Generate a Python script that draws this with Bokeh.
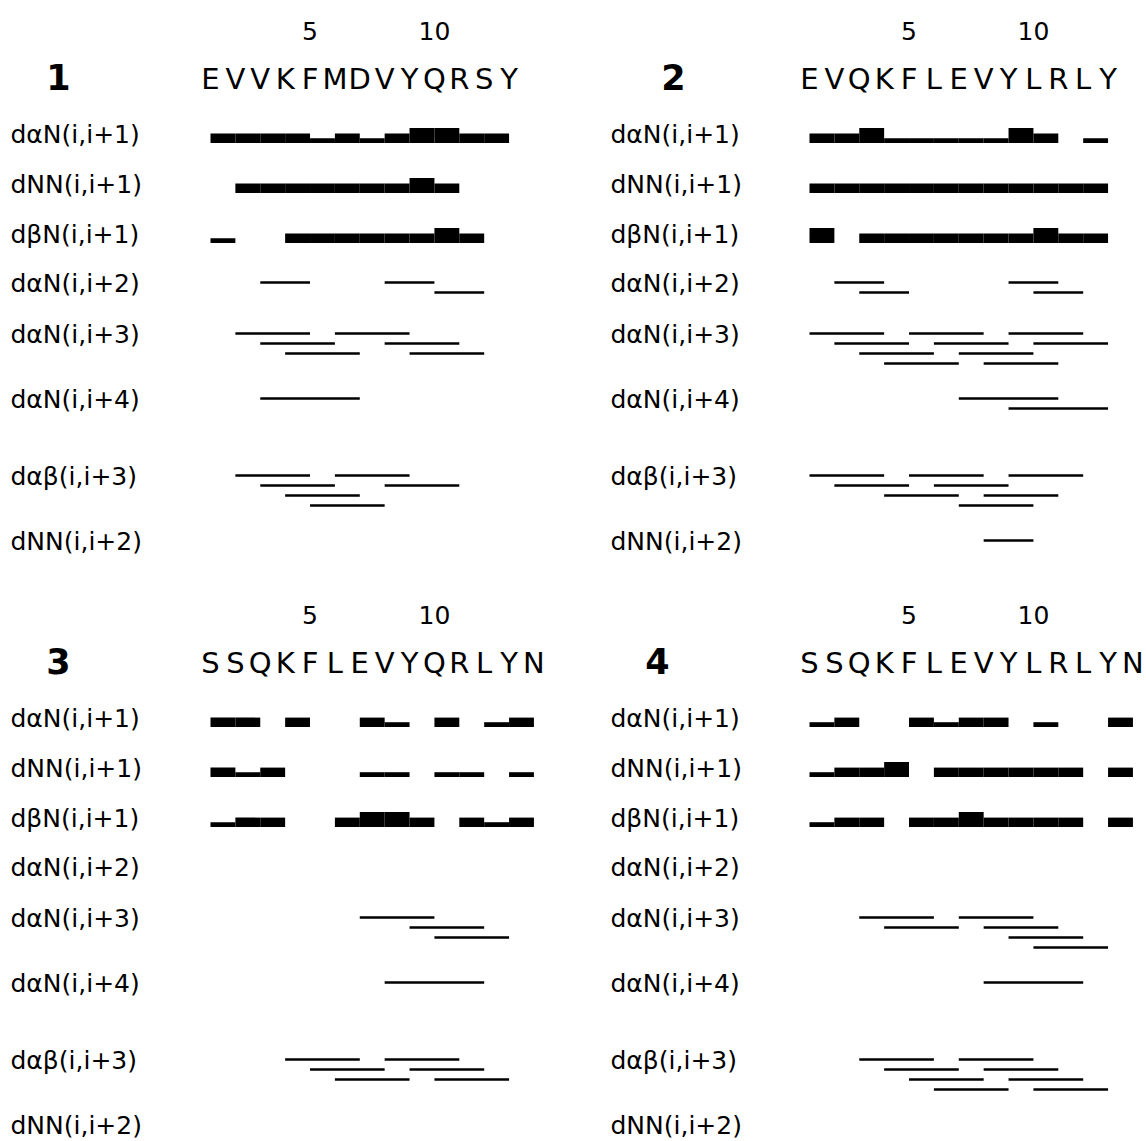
from bokeh.plotting import figure
from bokeh.models import Range1d
from bokeh.core.properties import value
from bokeh.embed import file_html
from bokeh.resources import INLINE

# ---------------- data ----------------
PANEL_NAMES = ["1", "2", "3", "4"]
SEQUENCES = ["EVVKFMDVYQRSY", "EVQKFLEVYLRLY", "SSQKFLEVYQRLYN", "SSQKFLEVYLRLYN"]
TICK_RESIDUES = [5, 10]
ROW_LABELS = ["dαN(i,i+1)", "dNN(i,i+1)", "dβN(i,i+1)", "dαN(i,i+2)",
              "dαN(i,i+3)", "dαN(i,i+4)", "dαβ(i,i+3)", "dNN(i,i+2)"]

# sequential NOEs (segment i -> i+1): 0 none, 1 weak, 2 medium, 3 strong
P1_DAN1 = [2, 2, 2, 2, 1, 2, 1, 2, 3, 3, 2, 2]
P1_DNN1 = [0, 2, 2, 2, 2, 2, 2, 2, 3, 2, 0, 0]
P1_DBN1 = [1, 0, 0, 2, 2, 2, 2, 2, 2, 3, 2, 0]
P2_DAN1 = [2, 2, 3, 1, 1, 1, 1, 1, 3, 2, 0, 1]
P2_DNN1 = [2, 2, 2, 2, 2, 2, 2, 2, 2, 2, 2, 2]
P2_DBN1 = [3, 0, 2, 2, 2, 2, 2, 2, 2, 3, 2, 2]
P3_DAN1 = [2, 2, 0, 2, 0, 0, 2, 1, 0, 2, 0, 1, 2]
P3_DNN1 = [2, 1, 2, 0, 0, 0, 1, 1, 0, 1, 1, 0, 1]
P3_DBN1 = [1, 2, 2, 0, 0, 2, 3, 3, 2, 0, 2, 1, 2]
P4_DAN1 = [1, 2, 0, 0, 2, 1, 2, 2, 0, 1, 0, 0, 2]
P4_DNN1 = [1, 2, 2, 3, 0, 2, 2, 2, 2, 2, 2, 0, 2]
P4_DBN1 = [1, 2, 2, 0, 2, 2, 3, 2, 2, 2, 2, 0, 2]

# medium-range NOEs: starting residue i of each (i, i+k) contact
P1_DAN2 = [3, 8, 10]
P1_DAN3 = [2, 3, 4, 6, 8, 9]
P1_DAN4 = [3]
P1_DAB3 = [2, 3, 4, 5, 6, 8]
P1_DNN2 = []
P2_DAN2 = [2, 3, 9, 10]
P2_DAN3 = [1, 2, 3, 4, 5, 6, 7, 8, 9, 10]
P2_DAN4 = [7, 9]
P2_DAB3 = [1, 2, 4, 5, 6, 7, 8, 9]
P2_DNN2 = [8]
P3_DAN2 = []
P3_DAN3 = [7, 9, 10]
P3_DAN4 = [8]
P3_DAB3 = [4, 5, 6, 8, 9, 10]
P3_DNN2 = []
P4_DAN2 = []
P4_DAN3 = [3, 4, 7, 8, 9, 10]
P4_DAN4 = [8]
P4_DAB3 = [3, 4, 5, 6, 7, 8, 9, 10]
P4_DNN2 = []

SEQUENTIAL = [[P1_DAN1, P1_DNN1, P1_DBN1], [P2_DAN1, P2_DNN1, P2_DBN1],
              [P3_DAN1, P3_DNN1, P3_DBN1], [P4_DAN1, P4_DNN1, P4_DBN1]]
MEDIUM = [[P1_DAN2, P1_DAN3, P1_DAN4, P1_DAB3, P1_DNN2],
          [P2_DAN2, P2_DAN3, P2_DAN4, P2_DAB3, P2_DNN2],
          [P3_DAN2, P3_DAN3, P3_DAN4, P3_DAB3, P3_DNN2],
          [P4_DAN2, P4_DAN3, P4_DAN4, P4_DAB3, P4_DNN2]]
MEDIUM_SPAN = [2, 3, 4, 3, 2]

# ---------------- layout ----------------
PANEL_X0 = [210, 809, 210, 809]      # x of residue 1
LABEL_X = [10, 610, 10, 610]
NAME_X = [58, 673, 58, 657]
PANEL_DY = [0, 0, 584, 584]
STEP = 24.88
ROW_Y = [133.5, 183.5, 233.5, 283, 334, 399, 476, 541]
BAR_H = {1: 4.8, 2: 9.4, 3: 15.0}
SUB_STEP = 10
FONT = value("DejaVu Sans")

W, H = 1144, 1139
p = figure(width=W, height=H, x_range=Range1d(0, W), y_range=Range1d(H, 0),
           output_backend="svg", toolbar_location=None, x_axis_type=None, y_axis_type=None,
           min_border=0)
p.grid.visible = False
p.outline_line_color = None

bl, br, bt, bb = [], [], [], []
sx0, sx1, sy = [], [], []
tx, ty, tt = [], [], []
for k in range(4):
    x0, dy = PANEL_X0[k], PANEL_DY[k]
    rx = lambda r: x0 + (r - 1) * STEP
    # sequential bars
    for row, vals in enumerate(SEQUENTIAL[k]):
        base = ROW_Y[row] + dy + 9
        for i, v in enumerate(vals):
            if v:
                bl.append(rx(i + 1)); br.append(rx(i + 2))
                bb.append(base); bt.append(base - BAR_H[v])
    # medium-range lines, stacked greedily
    for j, starts in enumerate(MEDIUM[k]):
        span = MEDIUM_SPAN[j]
        ends = []
        for s in sorted(starts):
            e = s + span
            lvl = 0
            while lvl < len(ends) and not s > ends[lvl]:
                lvl += 1
            if lvl == len(ends):
                ends.append(e)
            else:
                ends[lvl] = e
            sx0.append(rx(s)); sx1.append(rx(e))
            sy.append(ROW_Y[3 + j] + dy - 1 + lvl * SUB_STEP)
    # row labels
    for row, lab in enumerate(ROW_LABELS):
        tx.append(LABEL_X[k]); ty.append(ROW_Y[row] + dy); tt.append(lab)

p.quad(left=bl, right=br, top=bt, bottom=bb, fill_color="black", line_color=None)
p.segment(x0=sx0, y0=sy, x1=sx1, y1=sy, line_color="black", line_width=2.6)
p.text(x=tx, y=ty, text=tt, text_font=FONT, text_font_size="25px",
       text_align="left", text_baseline="middle", text_color="black")

# sequences, tick numbers, panel names
qx, qy, qt = [], [], []
nx, ny, nt = [], [], []
for k in range(4):
    x0, dy = PANEL_X0[k], PANEL_DY[k]
    for i, ch in enumerate(SEQUENCES[k]):
        qx.append(x0 + i * STEP); qy.append(78 + dy); qt.append(ch)
    for r in TICK_RESIDUES:
        nx.append(x0 + (r - 1) * STEP); ny.append(30 + dy); nt.append(str(r))
p.text(x=qx, y=qy, text=qt, text_font=FONT, text_font_size="29px",
       text_align="center", text_baseline="middle", text_color="black")
p.text(x=nx, y=ny, text=nt, text_font=FONT, text_font_size="25px",
       text_align="center", text_baseline="middle", text_color="black")
p.text(x=NAME_X, y=[76, 76, 660, 660], text=PANEL_NAMES, text_font=FONT,
       text_font_size="35px", text_font_style="bold",
       text_align="center", text_baseline="middle", text_color="black")

open("out.html", "w").write(file_html(p, INLINE))
